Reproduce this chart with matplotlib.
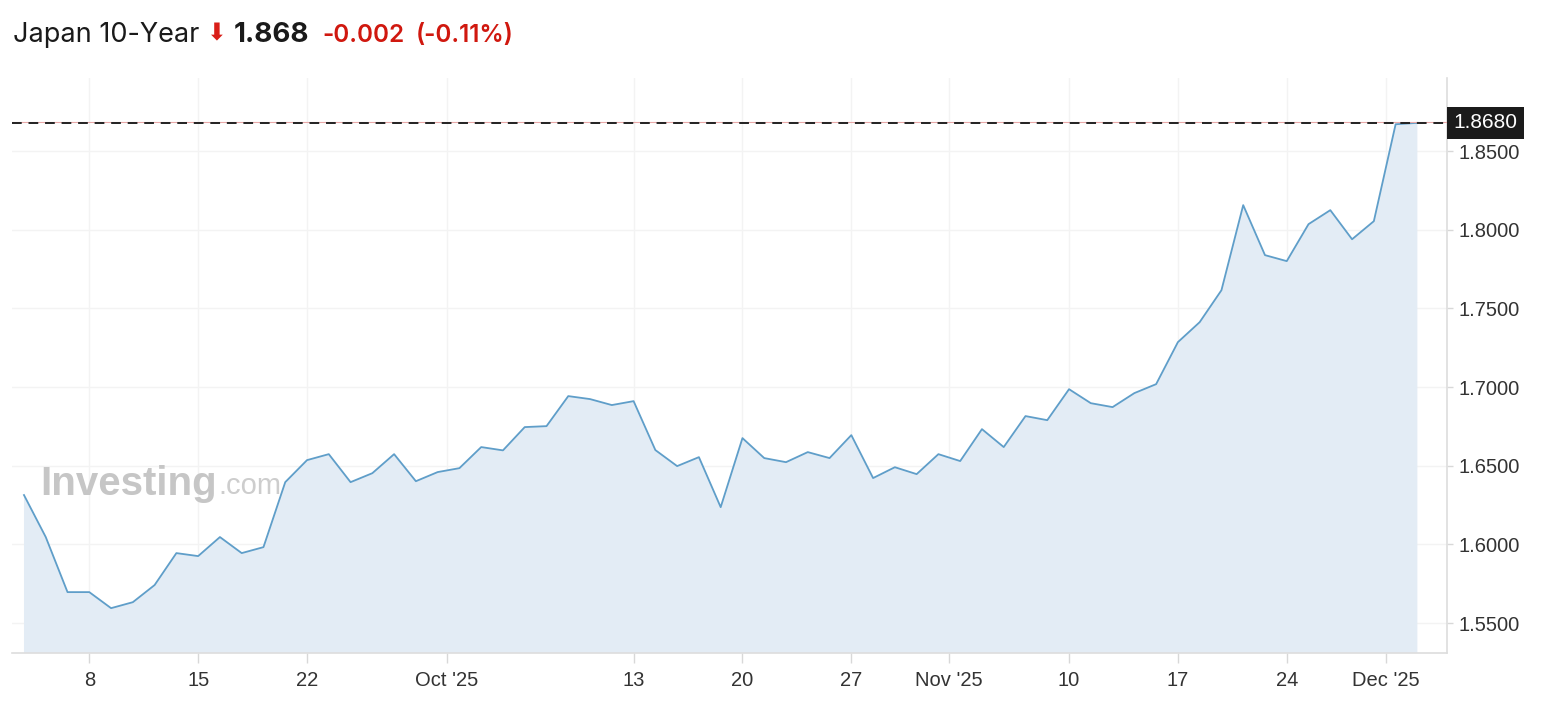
import numpy as np
import matplotlib.pyplot as plt
from matplotlib import transforms

# Japan 10-year yield, one value per trading day
yields = [1.6314, 1.6047, 1.5697, 1.5697, 1.5595, 1.5633, 1.5742, 1.5945, 1.5926, 1.6047,
          1.5945, 1.5983, 1.6396, 1.6536, 1.6574, 1.6396, 1.6453, 1.6574, 1.6402, 1.6460,
          1.6485, 1.6619, 1.6598, 1.6746, 1.6752, 1.6943, 1.6924, 1.6886, 1.6911, 1.6600,
          1.6498, 1.6555, 1.6237, 1.6676, 1.6549, 1.6523, 1.6587, 1.6549, 1.6695, 1.6422,
          1.6491, 1.6447, 1.6574, 1.6530, 1.6733, 1.6619, 1.6816, 1.6790, 1.6987, 1.6898,
          1.6873, 1.6962, 1.7019, 1.7286, 1.7413, 1.7616, 1.8157, 1.7839, 1.7801, 1.8036,
          1.8125, 1.7940, 1.8055, 1.8671, 1.8680]
last_price = 1.868

# x tick positions in trading-day index, with their labels
tick_pos = [3, 8, 13, 19.43, 28, 33, 38, 42.5, 48, 53, 58, 62.56]
tick_labels = ['8', '15', '22', "Oct '25", '13', '20', '27', "Nov '25", '10', '17', '24', "Dec '25"]
y_ticks = [1.55, 1.60, 1.65, 1.70, 1.75, 1.80, 1.85]

x = np.arange(len(yields))

fig = plt.figure(figsize=(15.5, 7.08), dpi=100)
ax = fig.add_axes([12 / 1550, 55 / 708, 1435 / 1550, 575 / 708])

line_col = '#5f9ec9'
fill_col = '#e3ecf5'
ax.fill_between(x, yields, 1.40, color=fill_col, lw=0, zorder=1)
ax.plot(x, yields, color=line_col, lw=1.3, zorder=3)

# last price line
ax.axhline(last_price + 0.0003, color='#e9a9a9', lw=0.8, zorder=4)
ax.axhline(last_price, color='#222222', lw=1.4, ls=(0, (5, 3.5)), zorder=5)

ax.set_xlim(-0.55, 65.36)
ax.set_ylim(1.531, 1.8965)

ax.yaxis.tick_right()
ax.set_yticks(y_ticks)
ax.set_yticklabels(['%.4f' % v for v in y_ticks])
ax.set_xticks(tick_pos)
ax.set_xticklabels(tick_labels)

ax.tick_params(axis='both', colors='#d8d8d8', labelcolor='#333333', labelsize=14.5,
               width=1)
ax.tick_params(axis='x', length=7, pad=6)
ax.tick_params(axis='y', length=4, pad=4)
for lab in ax.get_xticklabels() + ax.get_yticklabels():
    lab.set_family('Liberation Sans')

ax.grid(True, color='#f3f3f3', lw=1, zorder=0)
ax.set_axisbelow(True)

for side in ['top', 'left']:
    ax.spines[side].set_visible(False)
for side in ['right', 'bottom']:
    ax.spines[side].set_color('#dddddd')
    ax.spines[side].set_linewidth(1.2)

# price tag on the right axis
trans = transforms.blended_transform_factory(ax.transAxes, ax.transData)
ax.text(1.0045, last_price, '1.8680', transform=trans, ha='left', va='center',
        fontsize=15, family='Liberation Sans', color='white', zorder=10,
        bbox=dict(boxstyle='square,pad=0.3', fc='#1b1b1b', ec='none'))

# watermark
wm_y = (653 - 484) / 575
ax.text((40 - 12) / 1435, wm_y, 'Investing', transform=ax.transAxes,
        fontsize=29, fontweight='bold', family='Liberation Sans', color='#c6c6c6',
        ha='left', va='center', zorder=2)
ax.text((218 - 12) / 1435, wm_y - 0.004, '.com', transform=ax.transAxes,
        fontsize=21, family='Liberation Sans', color='#cdcdcd',
        ha='left', va='center', zorder=2)

# header
base_y = 1 - 42 / 708
fig.text(13 / 1550, base_y, 'Japan 10-Year', fontsize=19.5, family='Inter',
         color='#1a1a1a', va='baseline', ha='left')
fig.text(207 / 1550, base_y + 0.002, '\u2b07', fontsize=17, family='DejaVu Sans',
         color='#d91e18', va='baseline', ha='left')
fig.text(234 / 1550, base_y, '1.868', fontsize=20, family='Inter', fontweight='bold',
         color='#1a1a1a', va='baseline', ha='left')
fig.text(322 / 1550, base_y, '-0.002', fontsize=17.5, family='Inter', fontweight='semibold',
         color='#d0180f', va='baseline', ha='left')
fig.text(416 / 1550, base_y, '(-0.11%)', fontsize=17.5, family='Inter', fontweight='semibold',
         color='#d0180f', va='baseline', ha='left')

plt.savefig('out.png', dpi=100)
